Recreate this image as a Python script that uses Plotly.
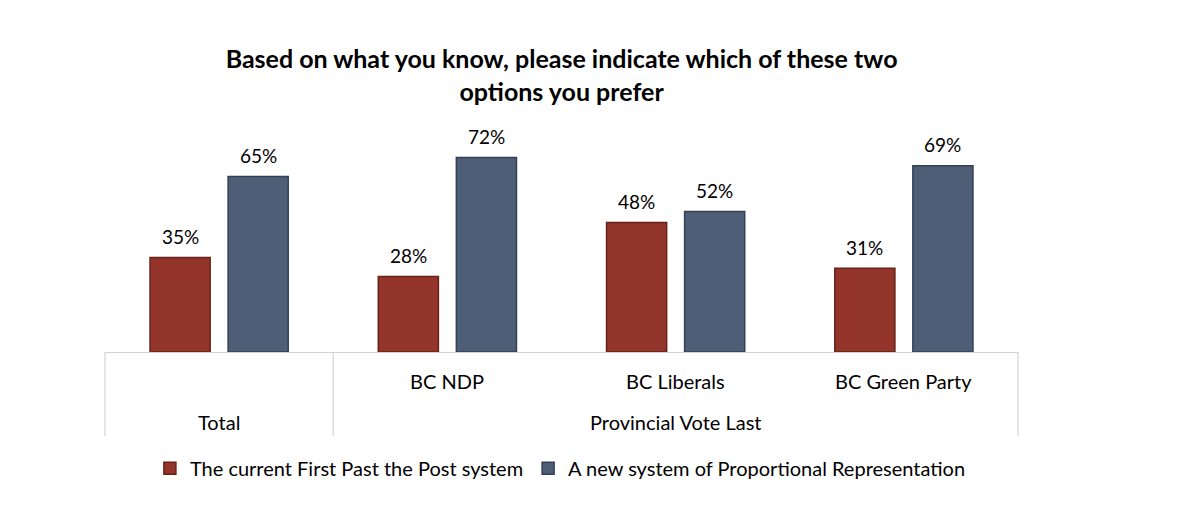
import plotly.graph_objects as go

categories = ["Total", "BC NDP", "BC Liberals", "BC Green Party"]
group_label = "Provincial Vote Last"
fptp = [35, 28, 48, 31]
pr = [65, 72, 52, 69]
series_names = ["The current First Past the Post system", "A new system of Proportional Representation"]
title_text = "Based on what you know, please indicate which of these two<br>options you prefer"

FONT = "Lato, Carlito, Calibri, sans-serif"
RED = "#93352a"
BLUE = "#4e5e77"
GRID = "#d3d3d3"

fig = go.Figure()
fig.add_trace(go.Bar(
    x=categories, y=fptp, name=series_names[0],
    marker=dict(color=RED, line=dict(color="#6a2118", width=1.5)),
))
fig.add_trace(go.Bar(
    x=categories, y=pr, name=series_names[1],
    marker=dict(color=BLUE, line=dict(color="#343f55", width=1.5)),
))

annotations = []
# value labels above the bars
for vals, shift in ((fptp, -39), (pr, 39)):
    for c, v in zip(categories, vals):
        annotations.append(dict(
            x=c, y=v, xref="x", yref="y", text=f"{v}%", showarrow=False,
            xshift=shift, yshift=21, yanchor="middle", xanchor="center",
            font=dict(size=19, family=FONT, color="#000000"),
        ))
# table labels under the axis
for c in categories[1:]:
    annotations.append(dict(
        x=c, y=-0.134, xref="x", yref="paper", text=c, showarrow=False,
        yanchor="middle", font=dict(size=20, family=FONT, color="#000000"),
    ))
annotations.append(dict(
    x=categories[0], y=-0.324, xref="x", yref="paper", text=categories[0], showarrow=False,
    yanchor="middle", font=dict(size=20, family=FONT, color="#000000"),
))
annotations.append(dict(
    x=categories[2], y=-0.324, xref="x", yref="paper", text=group_label, showarrow=False,
    yanchor="middle", font=dict(size=20, family=FONT, color="#000000"),
))

# table divider lines
shapes = []
for xp in (0.0, 0.25, 1.0):
    shapes.append(dict(type="line", xref="paper", yref="paper", x0=xp, x1=xp, y0=0, y1=-0.389,
                       line=dict(color=GRID, width=1.2)))

fig.update_layout(
    width=1200, height=522,
    paper_bgcolor="white", plot_bgcolor="white",
    margin=dict(l=105, r=182, t=136, b=170),
    barmode="group", bargap=0.316, bargroupgap=0.23,
    font=dict(family=FONT, size=20, color="#000000"),
    title=dict(text=title_text, x=0.468, xanchor="center", y=0.869, yanchor="middle",
               font=dict(size=25, family=FONT, color="#000000", weight="bold")),
    showlegend=True,
    legend=dict(orientation="h", x=0.467, xanchor="center", xref="container",
                y=0.103, yanchor="middle", yref="container",
                font=dict(size=20, family=FONT), itemwidth=30, traceorder="normal"),
    xaxis=dict(type="category", range=[-0.5, 3.5], showline=True, linecolor=GRID, linewidth=1.2,
               showticklabels=False, ticks="", showgrid=False, zeroline=False),
    yaxis=dict(range=[0, 80], visible=False, showgrid=False, zeroline=False),
    annotations=annotations,
    shapes=shapes,
)

fig.write_html("out.html")
